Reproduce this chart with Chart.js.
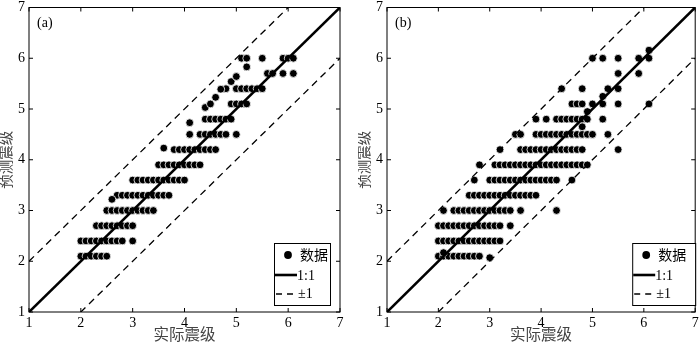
<!DOCTYPE html>
<html>
<head>
<meta charset="utf-8">
<script src="https://cdn.jsdelivr.net/npm/chart.js@4/dist/chart.umd.min.js"></script>
<style>
  body { margin: 0; background: #fff; }
  #wrap { position: relative; width: 700px; height: 345px; }
  canvas { position: absolute; top: 0; }
</style>
</head>
<body>
<div id="wrap">
  <canvas id="chart_a" width="345" height="345" style="left:0"></canvas>
  <canvas id="chart_b" width="342" height="345" style="left:358px"></canvas>
</div>
<script>
// AXIS + LINES
const axis_ticks = [1, 2, 3, 4, 5, 6, 7];
const line_x = [1, 7];
const band = 1;

// PANEL (a) - rows of predicted magnitude and the actual magnitudes in each row
const a_row_y = [2.1, 2.4, 2.7, 3.0, 3.3, 3.6, 3.9, 4.2, 4.5, 4.8, 5.1, 5.4, 5.7, 6.0];
const a_row_x = [
  [2.0, 2.1, 2.2, 2.3, 2.4, 2.5],
  [2.0, 2.1, 2.2, 2.3, 2.4, 2.5, 2.6, 2.7, 2.8, 3.0],
  [2.3, 2.4, 2.5, 2.6, 2.7, 2.8, 2.9, 3.0],
  [2.5, 2.6, 2.7, 2.8, 2.9, 3.0, 3.1, 3.2, 3.3, 3.4],
  [2.7, 2.8, 2.9, 3.0, 3.1, 3.2, 3.3, 3.4, 3.5, 3.6, 3.7],
  [3.0, 3.1, 3.2, 3.3, 3.4, 3.5, 3.6, 3.7, 3.8, 3.9, 4.0],
  [3.5, 3.6, 3.7, 3.8, 3.9, 4.0, 4.1, 4.2, 4.3],
  [3.8, 3.9, 4.0, 4.1, 4.2, 4.3, 4.4, 4.5, 4.6],
  [4.1, 4.3, 4.4, 4.5, 4.6, 4.7, 4.8, 5.0],
  [4.4, 4.5, 4.6, 4.7, 4.8, 4.9],
  [4.9, 5.0, 5.1, 5.2],
  [4.8, 5.0, 5.1, 5.2, 5.3, 5.4, 5.5],
  [5.6, 5.7, 5.9, 6.1],
  [5.1, 5.2, 5.5, 5.9, 6.0, 6.1]
];
const a_extra_x = [2.6, 3.6, 4.1, 4.4, 4.5, 4.6, 4.7, 4.9, 5.0, 5.2];
const a_extra_y = [3.22, 4.23, 4.73, 5.03, 5.1, 5.23, 5.39, 5.54, 5.64, 5.83];

// PANEL (b)
const b_row_y = [2.1, 2.4, 2.7, 3.0, 3.3, 3.6, 3.9, 4.2, 4.5, 4.8, 5.1, 5.4, 5.7, 6.0];
const b_row_x = [
  [2.0, 2.1, 2.2, 2.3, 2.4, 2.5, 2.6, 2.7, 2.8],
  [2.0, 2.1, 2.2, 2.3, 2.4, 2.5, 2.6, 2.7, 2.8, 2.9, 3.0, 3.1, 3.2],
  [2.0, 2.1, 2.2, 2.3, 2.4, 2.5, 2.6, 2.7, 2.8, 2.9, 3.0, 3.1, 3.2, 3.4],
  [2.1, 2.3, 2.4, 2.5, 2.6, 2.7, 2.8, 2.9, 3.0, 3.1, 3.2, 3.3, 3.4, 3.6, 4.3],
  [2.6, 2.7, 2.8, 2.9, 3.0, 3.1, 3.2, 3.3, 3.4, 3.5, 3.6, 3.7, 3.8, 3.9],
  [2.7, 3.0, 3.1, 3.2, 3.3, 3.4, 3.5, 3.6, 3.7, 3.8, 3.9, 4.0, 4.1, 4.2, 4.3, 4.6],
  [2.8, 3.1, 3.2, 3.3, 3.4, 3.5, 3.6, 3.7, 3.8, 3.9, 4.0, 4.1, 4.2, 4.3, 4.4, 4.5, 4.6, 4.7, 4.8, 4.9],
  [3.2, 3.6, 3.7, 3.8, 3.9, 4.0, 4.1, 4.2, 4.3, 4.4, 4.5, 4.6, 4.7, 4.8, 5.5],
  [3.5, 3.6, 3.9, 4.0, 4.1, 4.2, 4.3, 4.4, 4.5, 4.6, 4.7, 4.8, 4.9, 5.0, 5.3],
  [3.9, 4.1, 4.3, 4.4, 4.5, 4.6, 4.7, 4.8, 4.9, 5.2],
  [4.6, 4.7, 4.8, 5.0, 5.2, 5.5, 6.1],
  [4.4, 4.8, 5.3, 5.5],
  [5.5, 5.9],
  [5.0, 5.2, 5.5, 5.9, 6.1]
];
const b_extra_x = [2.1, 3.0, 4.8, 4.9, 5.2, 6.1];
const b_extra_y = [2.17, 2.07, 4.65, 4.95, 5.25, 6.16];

const legend_labels = ['数据', '1:1', '±1'];

Chart.defaults.font.family = "'Liberation Serif', 'Noto Sans CJK SC', serif";
Chart.defaults.color = '#000';

// frame, inner ticks, panel tag and legend box (MATLAB style)
const framePlugin = {
  id: 'frame',
  afterDraw(chart, args, opts) {
    const c = chart.ctx, a = chart.chartArea;
    const xs = chart.scales.x, ys = chart.scales.y;
    c.save();
    c.strokeStyle = '#000';
    c.lineWidth = 1;
    c.strokeRect(a.left, a.top, a.right - a.left, a.bottom - a.top);
    c.beginPath();
    axis_ticks.forEach(v => {
      let px = xs.getPixelForValue(v), py = ys.getPixelForValue(v);
      c.moveTo(px, a.bottom); c.lineTo(px, a.bottom - 4);
      c.moveTo(px, a.top); c.lineTo(px, a.top + 4);
      c.moveTo(a.left, py); c.lineTo(a.left + 4, py);
      c.moveTo(a.right, py); c.lineTo(a.right - 4, py);
    });
    c.stroke();

    // panel tag
    c.fillStyle = '#000';
    c.font = "14px 'Liberation Serif', serif";
    c.textBaseline = 'middle';
    c.fillText(opts.tag, a.left + 8, a.top + 16);

    // legend box
    const w = opts.boxW, h = 62;
    const bx = a.right - opts.dx - w, by = a.bottom - 7 - h;
    c.fillStyle = '#fff';
    c.fillRect(bx, by, w, h);
    c.strokeRect(bx + 0.5, by + 0.5, w, h);
    c.fillStyle = '#000';
    c.beginPath();
    c.arc(bx + 14, by + 12, 3.9, 0, Math.PI * 2);
    c.fill();
    c.font = "14px 'Liberation Serif', 'Noto Sans CJK SC', serif";
    c.fillText(legend_labels[0], bx + 26, by + 13);
    c.lineWidth = 2.6;
    c.beginPath();
    c.moveTo(bx + 1, by + 32); c.lineTo(bx + 23, by + 32);
    c.stroke();
    c.fillText(legend_labels[1], bx + 23, by + 33);
    c.lineWidth = 1.3;
    c.setLineDash([6, 5]);
    c.beginPath();
    c.moveTo(bx + 2, by + 51); c.lineTo(bx + 23, by + 51);
    c.stroke();
    c.setLineDash([]);
    c.fillText(legend_labels[2], bx + 24, by + 51);
    c.restore();
  }
};

function makeChart(id, row_y, row_x, extra_x, extra_y, frame, pad_right) {
  let pts = [];
  row_y.forEach((y, i) => {
    row_x[i].forEach(x => pts.push({x: x, y: y}));
  });
  extra_x.forEach((x, i) => pts.push({x: x, y: extra_y[i]}));

  return new Chart(document.getElementById(id), {
    type: 'scatter',
    data: {
      datasets: [{
        label: legend_labels[0],
        data: pts,
        pointRadius: 3.9,
        backgroundColor: '#000',
        borderColor: '#fff',
        borderWidth: 0.8,
        order: 2
      }, {
        label: legend_labels[1],
        type: 'line',
        data: line_x.map(x => ({x: x, y: x})),
        borderColor: '#000',
        borderWidth: 2.6,
        pointRadius: 0,
        order: 1
      }, {
        label: legend_labels[2],
        type: 'line',
        data: line_x.map(x => ({x: x, y: x + band})),
        borderColor: '#000',
        borderWidth: 1.3,
        borderDash: [7, 5],
        pointRadius: 0,
        order: 1
      }, {
        label: legend_labels[2],
        type: 'line',
        data: line_x.map(x => ({x: x, y: x - band})),
        borderColor: '#000',
        borderWidth: 1.3,
        borderDash: [7, 5],
        pointRadius: 0,
        order: 1
      }]
    },
    options: {
      responsive: false,
      animation: false,
      events: [],
      layout: { padding: { top: 7.5, right: pad_right, left: 0, bottom: 0 } },
      plugins: {
        legend: { display: false },
        tooltip: { enabled: false },
        frame: frame
      },
      scales: {
        x: {
          type: 'linear', min: 1, max: 7,
          ticks: { stepSize: 1, padding: 3, font: { size: 14 } },
          grid: { display: false, drawTicks: false },
          border: { display: false },
          title: { display: true, text: '实际震级', color: '#444',
                   font: { size: 15.5, lineHeight: 1 }, padding: { top: 0, bottom: 1 } },
          afterFit: s => { s.height = 33; s.paddingLeft = 0; s.paddingRight = 0; }
        },
        y: {
          type: 'linear', min: 1, max: 7,
          ticks: { stepSize: 1, padding: 4, font: { size: 14 } },
          grid: { display: false, drawTicks: false },
          border: { display: false },
          title: { display: true, text: '预测震级', color: '#444',
                   font: { size: 14.5, lineHeight: 1 }, padding: { top: 0, bottom: 0 } },
          afterFit: s => { s.width = 29; s.paddingTop = 0; s.paddingBottom = 0; }
        }
      }
    },
    plugins: [framePlugin]
  });
}

makeChart('chart_a', a_row_y, a_row_x, a_extra_x, a_extra_y, { tag: '(a)', boxW: 56, dx: 10 }, 5);
makeChart('chart_b', b_row_y, b_row_x, b_extra_x, b_extra_y, { tag: '(b)', boxW: 63, dx: 0 }, 3);
</script>
</body>
</html>
